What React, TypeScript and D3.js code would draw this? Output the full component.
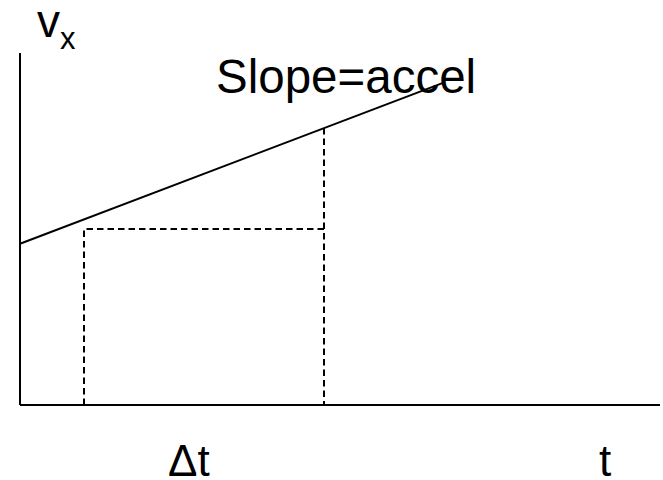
import React from "react";
import * as d3 from "d3";

// Velocity–time sketch: v_x grows linearly, with a dashed box over the interval Δt.
const lineTimes = [0, 6.6];
const lineVelocities = [2.52, 5.03];
const intervalTimes = [1.0, 4.75];
const boxHeight = [2.75];
const lineAtEnd = [4.33];
const labels = ["Slope=accel", "Δt", "t"];

const W = 663;
const H = 480;

export default function App() {
  const x = d3.scaleLinear().domain([0, 10]).range([20, 660]);
  const y = d3.scaleLinear().domain([0, 5.5]).range([405, 53]);

  const pts: [number, number][] = lineTimes.map((t, i) => [t, lineVelocities[i]]);
  const line = d3
    .line<[number, number]>()
    .x((d) => x(d[0]))
    .y((d) => y(d[1]));

  const [t1, t2] = intervalTimes;
  const box = d3.path();
  box.moveTo(x(t1), y(0));
  box.lineTo(x(t1), y(boxHeight[0]));
  box.lineTo(x(t2), y(boxHeight[0]));
  const right = d3.path();
  right.moveTo(x(t2), y(lineAtEnd[0]));
  right.lineTo(x(t2), y(0));

  const font = "'Liberation Sans', Arial, sans-serif";

  return (
    <svg
      width={W}
      height={H}
      style={{ position: "absolute", left: 0, top: 0, background: "#fff" }}
    >
      {/* axes */}
      <line x1={x(0)} x2={x(0)} y1={y(5.5)} y2={y(0)} stroke="#000" strokeWidth={2} />
      <line x1={x(0)} x2={x(10)} y1={y(0)} y2={y(0)} stroke="#000" strokeWidth={2} />

      {/* dashed interval */}
      <path d={box.toString()} fill="none" stroke="#000" strokeWidth={2} strokeDasharray="6.5,4" />
      <path d={right.toString()} fill="none" stroke="#000" strokeWidth={2} strokeDasharray="6.5,4" />

      {/* velocity line */}
      <path d={line(pts) ?? ""} fill="none" stroke="#000" strokeWidth={2} />

      {/* labels */}
      <text x={37} y={37} fontFamily={font} fontSize={46} fill="#000">
        v
        <tspan fontSize={31} dy={12}>x</tspan>
      </text>
      <text x={216} y={93} fontFamily={font} fontSize={47.5} fill="#000">
        {labels[0]}
      </text>
      <text x={168} y={476} fontFamily={font} fontSize={44} fill="#000">
        {labels[1]}
      </text>
      <text x={599} y={476} fontFamily={font} fontSize={44} fill="#000">
        {labels[2]}
      </text>
    </svg>
  );
}
